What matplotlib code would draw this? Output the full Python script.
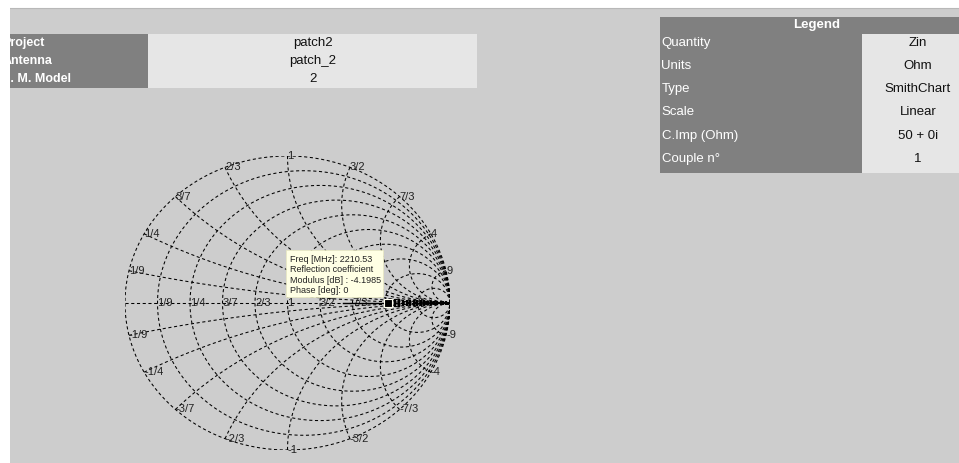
import numpy as np
import matplotlib.pyplot as plt
from matplotlib.patches import Rectangle

plt.rcParams["font.family"] = ["Liberation Sans", "DejaVu Sans"]

W, H = 959, 463

# info tables
project_labels = ["Project", "Antenna", "E. M. Model"]
project_values = ["patch2", "patch_2", "2"]

legend_title = "Legend"
legend_labels = ["Quantity", "Units", "Type", "Scale", "C.Imp (Ohm)", "Couple n°"]
legend_values = ["Zin", "Ohm", "SmithChart", "Linear", "50 + 0i", "1"]

# smith chart grid (normalised r and x)
grid_values = [1 / 9, 1 / 4, 3 / 7, 2 / 3, 1, 3 / 2, 7 / 3, 4, 9]
grid_labels = ["1/9", "1/4", "3/7", "2/3", "1", "3/2", "7/3", "4", "9"]

# reflection coefficient modulus along the sweep, phase 0 everywhere
trace_modulus = [0.34, 0.40, 0.46, 0.52, 0.57, 0.617]
sample_modulus = [0.662, 0.686, 0.709, 0.733, 0.754, 0.777, 0.799, 0.820,
                  0.842, 0.863, 0.881, 0.902, 0.922, 0.943, 0.959, 0.974, 0.990]

# selected point
marker_freq = 2210.53
marker_modulus_db = -4.1985
marker_phase_deg = 0

BG = "#cdcdcd"
DARK = "#808080"
LIGHT = "#e6e6e6"

fig = plt.figure(figsize=(W / 100, H / 100), dpi=100, facecolor="white")

# page in pixel coordinates
bg = fig.add_axes([0, 0, 1, 1], zorder=0)
bg.set_xlim(0, W)
bg.set_ylim(H, 0)
bg.axis("off")
bg.add_patch(Rectangle((0, 7.5), W, H, color=BG, lw=0))
bg.plot([0, W], [7.5, 7.5], color="#b8b8b8", lw=0.8)

# project table
row_h = 18
top = 33.5
for i, (lab, val) in enumerate(zip(project_labels, project_values)):
    y = top + i * row_h
    bg.add_patch(Rectangle((0, y), 148, row_h, color=DARK, lw=0))
    bg.add_patch(Rectangle((148, y), 329, row_h, color=LIGHT, lw=0))
    bg.text(2.5, y + row_h / 2 + 0.5, lab, color="white", fontsize=9,
            fontweight="bold", ha="left", va="center")
    bg.text(312.5, y + row_h / 2 + 0.5, val, color="#111111", fontsize=9.5,
            ha="center", va="center")
bg.add_patch(Rectangle((0, 0), 9.5, H, color="white", lw=0, zorder=5))

# legend table
lx0, lx1, lx2 = 660, 861.5, W
bg.add_patch(Rectangle((lx0, 16.5), lx2 - lx0, 17.5, color=DARK, lw=0))
bg.text(817, 25, legend_title, color="white", fontsize=9.5,
        fontweight="bold", ha="center", va="center")
lrow = 23.2
ltop = 34
for i, (lab, val) in enumerate(zip(legend_labels, legend_values)):
    y = ltop + i * lrow
    bg.add_patch(Rectangle((lx0, y), lx1 - lx0, lrow, color=DARK, lw=0))
    bg.add_patch(Rectangle((lx1, y), lx2 - lx1, lrow, color=LIGHT, lw=0))
    bg.text(lx0 + 1.5, y + 8.8, lab, color="white", fontsize=9.5,
            ha="left", va="center")
    bg.text(918, y + 8.8, val, color="#111111", fontsize=9.5,
            ha="center", va="center")

# smith chart
ax = fig.add_axes([125 / W, (H - 450) / H, 325 / W, 294 / H], zorder=1)
ax.patch.set_alpha(0)
ax.set_xlim(-1, 1)
ax.set_ylim(-1, 1)
ax.axis("off")

grid_kw = dict(color="black", lw=0.75, ls=(0, (3, 2.5)), zorder=1)
t = np.linspace(0, 2 * np.pi, 400)
ax.plot(np.cos(t), np.sin(t), **grid_kw)
ax.plot([-1, 1], [0, 0], **grid_kw)

for r in grid_values:
    c, rad = r / (1 + r), 1 / (1 + r)
    ax.plot(c + rad * np.cos(t), rad * np.sin(t), **grid_kw)

rr = np.concatenate([[0], np.logspace(-3, 3, 500)])
for x in grid_values:
    for s in (1, -1):
        z = rr + 1j * s * x
        g = (z - 1) / (z + 1)
        ax.plot(g.real, g.imag, **grid_kw)

lab_kw = dict(fontsize=8, color="#222222", ha="left", va="center", zorder=2)
for v, lab in zip(grid_values, grid_labels):
    gr = (v - 1) / (v + 1)
    ax.text(gr, 0, lab, **lab_kw)
    for s in (1, -1):
        g = (1j * s * v - 1) / (1j * s * v + 1)
        ax.text(g.real, g.imag, lab if s > 0 else "-" + lab, **lab_kw)

# sweep trace
ax.plot(trace_modulus, np.zeros(len(trace_modulus)), color="black", lw=1,
        zorder=3)
sm = np.array(sample_modulus)
hpx = 7.5 - 4.5 * (sm - sm[0]) / (sm[-1] - sm[0])
ax.scatter(sm, np.zeros(len(sm)), marker="|", s=(hpx * 0.72) ** 2,
           color="black", linewidths=1.6, zorder=3)

gsel = 10 ** (marker_modulus_db / 20) * np.cos(np.radians(marker_phase_deg))
ax.plot(gsel, 0, "s", ms=5.5, mfc="black", mec="#fffff0", mew=0.8, zorder=4)

# tooltip
tip = fig.add_axes([0, 0, 1, 1], zorder=2)
tip.set_xlim(0, W)
tip.set_ylim(H, 0)
tip.axis("off")
tip.add_patch(Rectangle((286, 250), 97, 47, facecolor="#ffffe4",
                        edgecolor="#e8e8c0", lw=0.5))
tip_lines = [
    f"Freq [MHz]: {marker_freq:.2f}",
    "Reflection coefficient",
    f"Modulus [dB] : {marker_modulus_db:.4f}",
    f"Phase [deg]: {marker_phase_deg}",
]
for i, line in enumerate(tip_lines):
    tip.text(289.5, 259.5 + i * 10.3, line, fontsize=6.5, color="#222222",
             ha="left", va="center")

fig.savefig("out.png", dpi=100, facecolor="white")
